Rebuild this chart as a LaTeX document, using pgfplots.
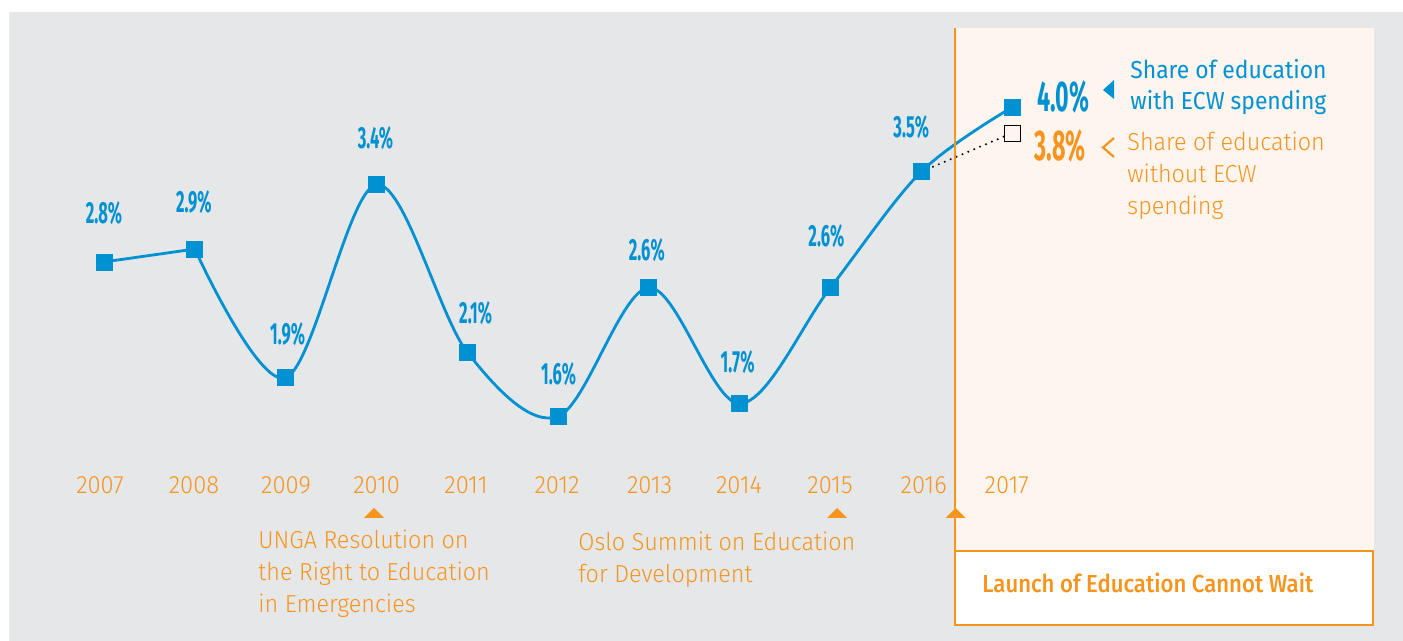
\documentclass[border=0pt]{standalone}
\usepackage{fontspec}
\setmainfont{Fira Sans}
\newfontfamily\numfont[FakeStretch=0.54]{Fira Sans Bold}
\newfontfamily\lightfont[FakeStretch=0.95]{Fira Sans Light}
\newfontfamily\medfont[FakeStretch=0.9]{Fira Sans Medium}
\newfontfamily\regfont[FakeStretch=0.93]{Fira Sans}
\usepackage{pgfplots}
\pgfplotsset{compat=1.18}
\definecolor{ecwblue}{RGB}{0,145,210}
\definecolor{ecworange}{RGB}{247,148,30}
\definecolor{bggrey}{RGB}{230,231,232}
\definecolor{bgpink}{RGB}{254,245,239}

\pgfplotstableread{
year value
2008 2.9
2009 1.9
2010 3.4
2011 2.1
2012 1.6
2013 2.6
2014 1.7
2015 2.6
2016 3.5
2017 4.0
}\withecw

\begin{document}
\begin{tikzpicture}
\begin{scope}[x=0.5pt,y=0.5pt]
\fill[white] (0,0) rectangle (1403,641);
\fill[bggrey] (9,0) rectangle (1403,629);
\fill[bgpink] (955,90) rectangle (1374,613);
\end{scope}
\begin{axis}[at={(0,0)}, anchor=south west, scale only axis,
  width=701.5pt, height=320.5pt,
  xmin=2005.8546, xmax=2021.3062, ymin=-0.1430, ymax=4.8337,
  hide axis, clip=false]
% without ECW (dotted)
\addplot[black, line width=1.1pt, line cap=round, dash pattern=on 0pt off 3.2pt, mark=none] coordinates {(2016,3.5) (2017,3.8)};
\addplot[black, line width=0.5pt, mark=square*, mark size=4pt, mark options={fill=bgpink, solid}, only marks] coordinates {(2017,3.8)};
% with ECW
\addplot[ecwblue, line width=1.4pt, mark=none] coordinates {(2007,2.8) (2008,2.9)};
\addplot[ecwblue, line width=1.4pt, smooth, tension=0.55, mark=none] table[x=year,y=value] {\withecw};
\addplot[ecwblue, only marks, mark=square*, mark size=4pt] coordinates {(2007,2.8) (2008,2.9) (2009,1.9) (2010,3.4) (2011,2.1) (2012,1.6) (2013,2.6) (2014,1.7) (2015,2.6) (2016,3.5) (2017,4.0)};
% value labels
\tikzset{vlab/.style={anchor=base, text=ecwblue, font=\numfont\fontsize{15.3}{17}\selectfont, inner sep=0pt}}
\node[vlab, yshift=19.2pt] at (axis cs:2007,2.8) {2.8\%};
\node[vlab, xshift=-0.5pt, yshift=18.3pt] at (axis cs:2008,2.9) {2.9\%};
\node[vlab, xshift=1pt, yshift=16.7pt] at (axis cs:2009,1.9) {1.9\%};
\node[vlab, xshift=-0.5pt, yshift=18.3pt] at (axis cs:2010,3.4) {3.4\%};
\node[vlab, xshift=4.2pt, yshift=14.5pt] at (axis cs:2011,2.1) {2.1\%};
\node[vlab, xshift=0.3pt, yshift=15.8pt] at (axis cs:2012,1.6) {1.6\%};
\node[vlab, xshift=-1pt, yshift=13.8pt] at (axis cs:2013,2.6) {2.6\%};
\node[vlab, xshift=-1pt, yshift=15.7pt] at (axis cs:2014,1.7) {1.7\%};
\node[vlab, xshift=-2pt, yshift=20.5pt] at (axis cs:2015,2.6) {2.6\%};
\node[vlab, xshift=-5pt, yshift=17.2pt] at (axis cs:2016,3.5) {3.5\%};
\end{axis}
\begin{scope}[x=0.5pt,y=0.5pt]
% launch box and divider
\draw[ecworange, line width=1pt] (955,90) -- (955,613);
\filldraw[fill=white, draw=ecworange, line width=1pt] (955,16) rectangle (1373,90);
% year labels
\tikzset{ylab/.style={anchor=base, text=ecworange, font=\lightfont\fontsize{12.5}{14}\selectfont, inner sep=0pt}}
\node[ylab] at (100,147) {2007};
\node[ylab] at (194,147) {2008};
\node[ylab] at (286,147) {2009};
\node[ylab] at (376.6,147) {2010};
\node[ylab] at (466,147) {2011};
\node[ylab] at (557,147) {2012};
\node[ylab] at (649.6,147) {2013};
\node[ylab] at (739,147) {2014};
\node[ylab] at (830,147) {2015};
\node[ylab] at (923.7,147) {2016};
\node[ylab] at (1006.7,147) {2017};
% event triangles
\fill[ecworange] (364,123) -- (384,123) -- (374,133) -- cycle;
\fill[ecworange] (827,123) -- (847,123) -- (837,133) -- cycle;
\fill[ecworange] (945.5,123) -- (965.5,123) -- (955.5,133) -- cycle;
% event texts
\tikzset{elab/.style={anchor=base west, text=ecworange, font=\lightfont\fontsize{12.3}{14}\selectfont, inner sep=0pt}}
\node[elab] at (258,92) {UNGA Resolution on};
\node[elab] at (258,60) {the Right to Education};
\node[elab] at (258,28) {in Emergencies};
\node[elab] at (578,90) {Oslo Summit on Education};
\node[elab] at (578,58) {for Development};
\node[anchor=base west, text=ecworange, font=\medfont\fontsize{12.3}{14}\selectfont, inner sep=0pt] at (982,48) {Launch of Education Cannot Wait};
% end labels
\node[anchor=base, text=ecwblue, font=\numfont\fontsize{21.5}{24}\selectfont, inner sep=0pt] at (1063,529) {4.0\%};
\node[anchor=base, text=ecworange, font=\numfont\fontsize{21.5}{24}\selectfont, inner sep=0pt] at (1060,480) {3.8\%};
\fill[ecwblue] (1103,551) -- (1114,561) -- (1114,542) -- cycle;
\draw[ecworange, line width=1.1pt] (1114,503) -- (1103,493.5) -- (1114,484);
\tikzset{llab/.style={anchor=base west, font=\regfont\fontsize{12.3}{14}\selectfont, inner sep=0pt}}
\node[llab, text=ecwblue] at (1130,562) {Share of education};
\node[llab, text=ecwblue] at (1130,531) {with ECW spending};
\tikzset{olab/.style={anchor=base west, text=ecworange, font=\lightfont\fontsize{12.3}{14}\selectfont, inner sep=0pt}}
\node[olab] at (1127,490) {Share of education};
\node[olab] at (1127,458) {without ECW};
\node[olab] at (1127,426) {spending};
\end{scope}
\end{tikzpicture}
\end{document}
